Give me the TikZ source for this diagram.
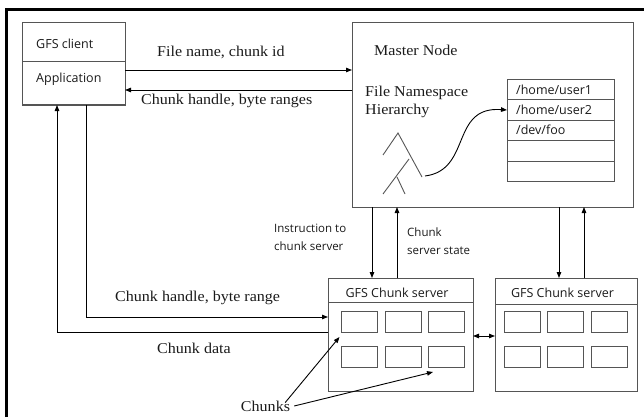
\documentclass[tikz,border=0pt]{standalone}
\usepackage{fontspec}
\setmainfont{Liberation Serif}[FakeStretch=1.07]
\newfontfamily\uisans{Open Sans}
\usetikzlibrary{arrows.meta}
\definecolor{boxgray}{HTML}{555555}
\definecolor{txt}{HTML}{1A1A1A}
\begin{document}
\begin{tikzpicture}[x=1pt,y=-1pt,
  box/.style={draw=boxgray, line width=1pt, inner sep=0pt, outer sep=0pt, rectangle},
  cbox/.style={box, minimum width=36pt, minimum height=21pt},
  sanslbl/.style={font=\uisans\fontsize{12.5}{14}\selectfont, text=txt, inner sep=0pt},
  smallsans/.style={font=\uisans\fontsize{11.5}{18}\selectfont, text=txt, inner sep=0pt, align=left},
  seriflbl/.style={font=\fontsize{15}{18}\selectfont, text=txt, inner sep=0pt},
  arr/.style={-{Triangle[length=6pt,width=4.5pt]}, line width=0.9pt, draw=black},
  darr/.style={{Triangle[length=6pt,width=4.5pt]}-{Triangle[length=6pt,width=4.5pt]}, line width=0.9pt, draw=black}]
\useasboundingbox (0,0) rectangle (644,417);
% outer frame
\draw[line width=2.6pt] (6.5,417) -- (6.5,9.5) -- (644,9.5);

% client
\node[box, minimum width=103pt, minimum height=82pt] (client) at (73.5,64) {};
\draw[boxgray, line width=1pt] (client.west |- 0,62) -- (client.east |- 0,62);
\node[sanslbl, anchor=west] (gfsc) at (36,44) {GFS client};
\node[sanslbl, anchor=west] (app) at (36,79) {Application};

% master
\node[box, minimum width=281pt, minimum height=184pt] (master) at (492.5,115) {};
\node[seriflbl, anchor=west] (mn) at (374,50) {Master Node};
\node[seriflbl, anchor=north west, align=left] (fns) at (365,86) {File Namespace\\Hierarchy};

% table
\node[box, minimum width=107pt, minimum height=101pt] (tbl) at (560.5,130.5) {};
\foreach \yy in {100,120,140,161} \draw[boxgray, line width=1pt] (tbl.west |- 0,\yy) -- (tbl.east |- 0,\yy);
\node[sanslbl, anchor=west] (r1) at (516,90) {/home/user1};
\node[sanslbl, anchor=west] (r2) at (516,110) {/home/user2};
\node[sanslbl, anchor=west] (r3) at (516,130) {/dev/foo};

% tree
\draw[boxgray, line width=0.9pt] (383,155) -- (398,133) -- (422,177);
\draw[boxgray, line width=0.9pt] (409,159) -- (383,194);
\draw[boxgray, line width=0.9pt] (397,177) -- (405,194);
\coordinate (treeend) at (425,176);
\draw[arr] (treeend) .. controls (472,170) and (450,106) .. (tbl.west |- r2.west);

% chunk servers
\node[box, minimum width=145pt, minimum height=113pt] (cs1) at (400.5,334.5) {};
\draw[boxgray, line width=1pt] (cs1.west |- 0,302) -- (cs1.east |- 0,302);
\node[sanslbl] (cs1t) at (397,293) {GFS Chunk server};
\node[box, minimum width=142pt, minimum height=113pt] (cs2) at (566,334.5) {};
\draw[boxgray, line width=1pt] (cs2.west |- 0,304) -- (cs2.east |- 0,304);
\node[sanslbl] (cs2t) at (562.5,293) {GFS Chunk server};

\node[cbox] (c1) at (359.5,321.5) {};
\node[cbox] (c2) at (403.5,321.5) {};
\node[cbox] (c3) at (446,321.5) {};
\node[cbox] (c4) at (359.5,356.5) {};
\node[cbox] (c5) at (403.5,356.5) {};
\node[cbox] (c6) at (446,356.5) {};
\node[cbox] (d1) at (522.5,321.5) {};
\node[cbox] (d2) at (565.5,321.5) {};
\node[cbox] (d3) at (609,321.5) {};
\node[cbox] (d4) at (522.5,356.5) {};
\node[cbox] (d5) at (565.5,356.5) {};
\node[cbox] (d6) at (609,356.5) {};

% client <-> master
\draw[arr] ([yshift=-6pt]client.east) -- ([yshift=-6pt]client.east -| master.west);
\node[seriflbl, anchor=west] (l1) at (157,52) {File name, chunk id};
\draw[arr] ([yshift=-26pt]client.east -| master.west) -- ([yshift=-26pt]client.east);
\node[seriflbl, anchor=west] (l2) at (141,101) {Chunk handle, byte ranges};

% master <-> chunk servers
\draw[arr] ([xshift=-28.5pt]cs1.north |- master.south) -- ([xshift=-28.5pt]cs1.north);
\draw[arr] ([xshift=-3.5pt]cs1.north) -- ([xshift=-3.5pt]cs1.north |- master.south);
\draw[arr] ([xshift=-7pt]cs2.north |- master.south) -- ([xshift=-7pt]cs2.north);
\draw[arr] ([xshift=18pt]cs2.north) -- ([xshift=18pt]cs2.north |- master.south);
\node[smallsans, anchor=north west] (instr) at (274,224) {Instruction to\\chunk server};
\node[smallsans, anchor=north west] (state) at (407,228) {Chunk\\server state};

% chunk server <-> chunk server
\draw[darr] ([yshift=-1.5pt]cs1.east) -- ([yshift=-1.5pt]cs1.east -| cs2.west);

% client <-> chunk server
\draw[arr] ([xshift=64pt]client.south west) |- ([yshift=17.5pt]cs1.west);
\node[seriflbl, anchor=west] (l3) at (115,298) {Chunk handle, byte range};
\draw[arr] ([yshift=2.5pt]cs1.west) -| ([xshift=35pt]client.south west);
\node[seriflbl, anchor=west] (l4) at (157,348) {Chunk data};

% chunks
\node[seriflbl] (chunks) at (265.5,406) {Chunks};
\draw[arr] ([xshift=-5pt,yshift=-2pt]chunks.north east) -- ([xshift=-2pt,yshift=-5pt]c1.south west);
\draw[arr] ([xshift=4pt]chunks.east) -- ([xshift=5pt,yshift=-5pt]c6.south west);
\end{tikzpicture}
\end{document}
